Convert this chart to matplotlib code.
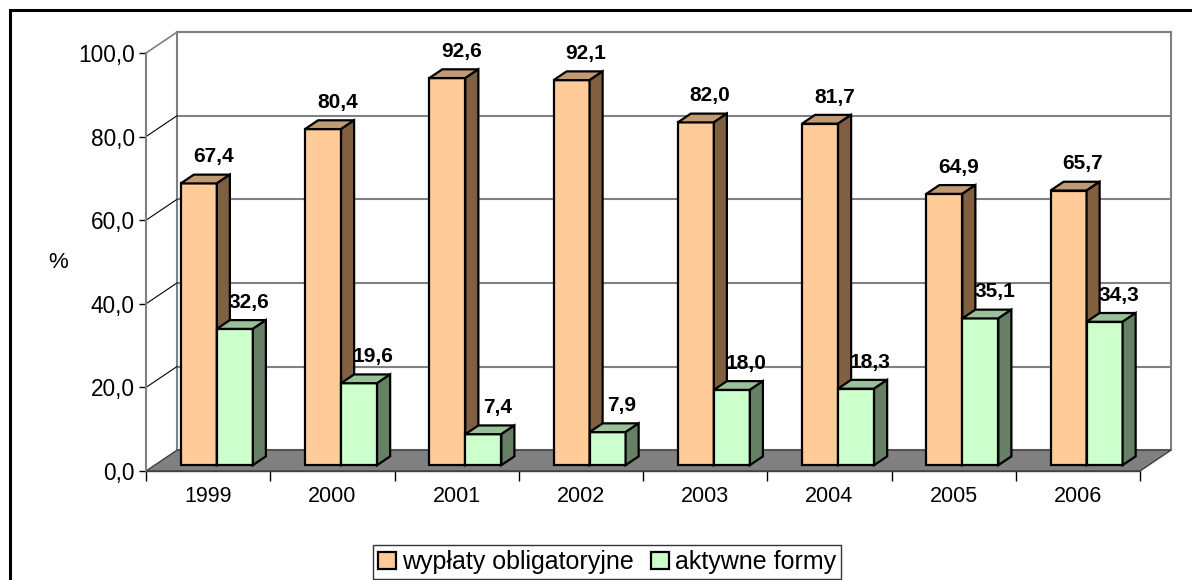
import matplotlib.pyplot as plt
from matplotlib.patches import Polygon, Patch, Rectangle

plt.rcParams['font.family'] = ['Liberation Sans', 'DejaVu Sans']

years = ["1999", "2000", "2001", "2002", "2003", "2004", "2005", "2006"]
obligatory = [67.4, 80.4, 92.6, 92.1, 82.0, 81.7, 64.9, 65.7]
active = [32.6, 19.6, 7.4, 7.9, 18.0, 18.3, 35.1, 34.3]
series_names = ["wypłaty obligatoryjne", "aktywne formy"]

# face colours: front, top, side
orange = ("#FFCC99", "#C09A73", "#806040")
green = ("#CCFFCC", "#99C099", "#668066")

# oblique projection of depth (0 = front, 1 = back wall)
DX = 0.25
DY = 5.0
D0, D1 = 0.28, 0.70
BW = 0.29


def P(x, v, d):
    return (x + DX * d, v + DY * d)


def fmt(v):
    return ("%.1f" % v).replace(".", ",")


fig = plt.figure(figsize=(11.92, 5.80), dpi=100)
ax = fig.add_axes([146 / 1192, 109 / 580, 994 / 1192, 418 / 580])
ax.set_xlim(0, len(years))
ax.set_ylim(0, 100)
ax.patch.set_visible(False)
for s in ["top", "right"]:
    ax.spines[s].set_visible(False)
ax.spines["left"].set_color("#808080")
ax.spines["left"].set_linewidth(1.5)
ax.spines["bottom"].set_color("#404040")
ax.spines["bottom"].set_linewidth(1)

n = len(years)
gray = "#808080"

# back wall
ax.add_patch(Polygon([P(0, 0, 1), P(n, 0, 1), P(n, 100, 1), P(0, 100, 1)],
                     closed=True, facecolor="white", edgecolor=gray, lw=1.5,
                     clip_on=False, zorder=1))
yt = [0, 20, 40, 60, 80, 100]
for v in yt[1:]:
    a, b = P(0, v, 1), P(n, v, 1)
    ax.plot([a[0], b[0]], [a[1], b[1]], color=gray, lw=1.5, clip_on=False, zorder=1)
    c = P(0, v, 0)
    ax.plot([c[0], a[0]], [c[1], a[1]], color=gray if v == 100 else "black",
            lw=1.2 if v == 100 else 0.8, clip_on=False, zorder=1)

# floor
ax.add_patch(Polygon([P(0, 0, 0), P(n, 0, 0), P(n, 0, 1), P(0, 0, 1)],
                     closed=True, facecolor=gray, edgecolor="#404040", lw=1,
                     clip_on=False, zorder=2))


def draw_bar(x0, h, cols):
    x1 = x0 + BW
    ax.bar(x0 + DX * D0, h, width=BW, bottom=DY * D0, align="edge",
           color=cols[0], edgecolor="black", lw=1.6, zorder=3, clip_on=False)
    ax.add_patch(Polygon([P(x0, h, D0), P(x1, h, D0), P(x1, h, D1), P(x0, h, D1)],
                         closed=True, facecolor=cols[1], edgecolor="black", lw=1.6,
                         zorder=3, clip_on=False))
    ax.add_patch(Polygon([P(x1, 0, D0), P(x1, 0, D1), P(x1, h, D1), P(x1, h, D0)],
                         closed=True, facecolor=cols[2], edgecolor="black", lw=1.6,
                         zorder=3, clip_on=False))
    tx, ty = P(x0 + BW / 2, h, D1)
    ax.annotate(fmt(h), (tx, ty), xytext=(1, 6), textcoords="offset points",
                ha="center", va="bottom", fontsize=15, fontweight="bold", zorder=4)


for i in range(n):
    draw_bar(i + 0.5 - BW, obligatory[i], orange)
    draw_bar(i + 0.5, active[i], green)

ax.set_yticks(yt)
ax.set_yticklabels([fmt(v) for v in yt], fontsize=16.3)
ax.tick_params(axis="y", length=5, width=1, color="black", pad=3)
ax.set_xticks([i + 0.5 for i in range(n)])
ax.set_xticklabels(years, fontsize=15.5)
ax.tick_params(axis="x", which="major", length=0, pad=11)
ax.set_xticks(range(n + 1), minor=True)
ax.tick_params(axis="x", which="minor", length=7, width=1, color="black")

fig.text(58 / 1192, 1 - 262 / 580, "%", fontsize=16, ha="center", va="center")

handles = [Patch(facecolor=orange[0], edgecolor="black", lw=1.6),
           Patch(facecolor=green[0], edgecolor="black", lw=1.6)]
leg = fig.legend(handles, series_names, loc="lower center", ncol=2,
                 bbox_to_anchor=(607 / 1192, 1 / 580), fontsize=18,
                 frameon=True, fancybox=False, handlelength=0.7, handleheight=0.7,
                 handletextpad=0.25, columnspacing=0.7, borderpad=0.2,
                 borderaxespad=0)
leg.get_frame().set_edgecolor("black")
leg.get_frame().set_linewidth(1)

fig.add_artist(Rectangle((10 / 1192, -0.1), 1.2, 1.1 - 10 / 580 + 0.0,
                         transform=fig.transFigure, fill=False,
                         edgecolor="black", lw=2.2))

fig.savefig("out.png", dpi=100)
